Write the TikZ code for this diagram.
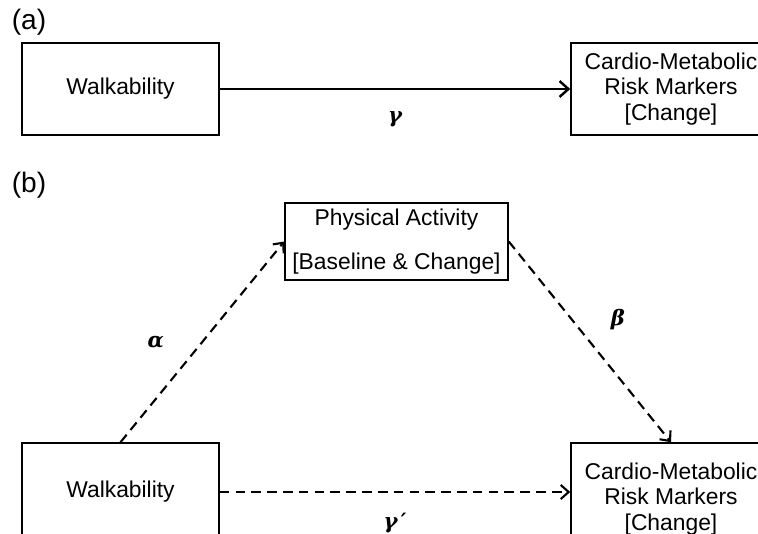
\documentclass[tikz,border=0pt]{standalone}
\usepackage{fontspec}
\setmainfont{Liberation Sans}
\newfontfamily\greekfont{DejaVu Serif}
\usetikzlibrary{arrows.meta,positioning}

\tikzset{
  varbox/.style={draw, line width=0.9pt, align=center, inner sep=0pt,
    font=\fontsize{13}{14.7}\selectfont},
  pathline/.style={line width=1.4pt, -{Straight Barb[length=5pt,width=9pt,line width=1.4pt]}},
  dashline/.style={line width=1.2pt, dash pattern=on 5.5pt off 3.5pt,
    -{Straight Barb[length=4.5pt,width=8pt,line width=1.2pt]}},
  coef/.style={font=\greekfont\bfseries\itshape\fontsize{12}{13}\selectfont},
  panel/.style={font=\fontsize{16}{17}\selectfont}
}

\begin{document}
\begin{tikzpicture}[x=0.02cm,y=-0.02cm]
      \useasboundingbox (0,0) rectangle (758,534);
      \clip (0,0) rectangle (758,534);
      % (a) total effect
      \node[panel] (labA) at (29,22) {(a)};
      \node[varbox, minimum width=3.94cm, minimum height=1.84cm] (walkA) at (120.5,89) {Walkability};
      \node[varbox, minimum width=4cm, minimum height=1.84cm] (cmrA) at (671,89) {Cardio-Metabolic\\Risk Markers\\{[Change]}};
      \draw[pathline] (walkA) -- node[coef, below=9pt] (gamA) {γ} (cmrA);
      % (b) mediation
      \node[panel] (labB) at (29,185) {(b)};
      \node[varbox, minimum width=4.46cm, minimum height=1.54cm] (pa) at (396.5,241.5) {Physical Activity\\[10pt]{[Baseline \& Change]}};
      \node[varbox, minimum width=3.94cm, minimum height=1.96cm] (walkB) at (120.5,492) {Walkability};
      \node[varbox, minimum width=4cm, minimum height=2.24cm] (cmrB) at (671,499) {Cardio-Metabolic\\Risk Markers\\{[Change]}};
      \draw[dashline] (walkB.north) -- node[coef, left=18pt] (alp) {α} (pa.west);
      \draw[dashline] (pa.east) -- node[coef, above right=3pt and 8pt] (bet) {β} (cmrB.north);
      \draw[dashline] (walkB.east) -- node[coef, below=8pt] (gamB) {γ\,′} (walkB.east -| cmrB.west);
    \end{tikzpicture}
\end{document}
